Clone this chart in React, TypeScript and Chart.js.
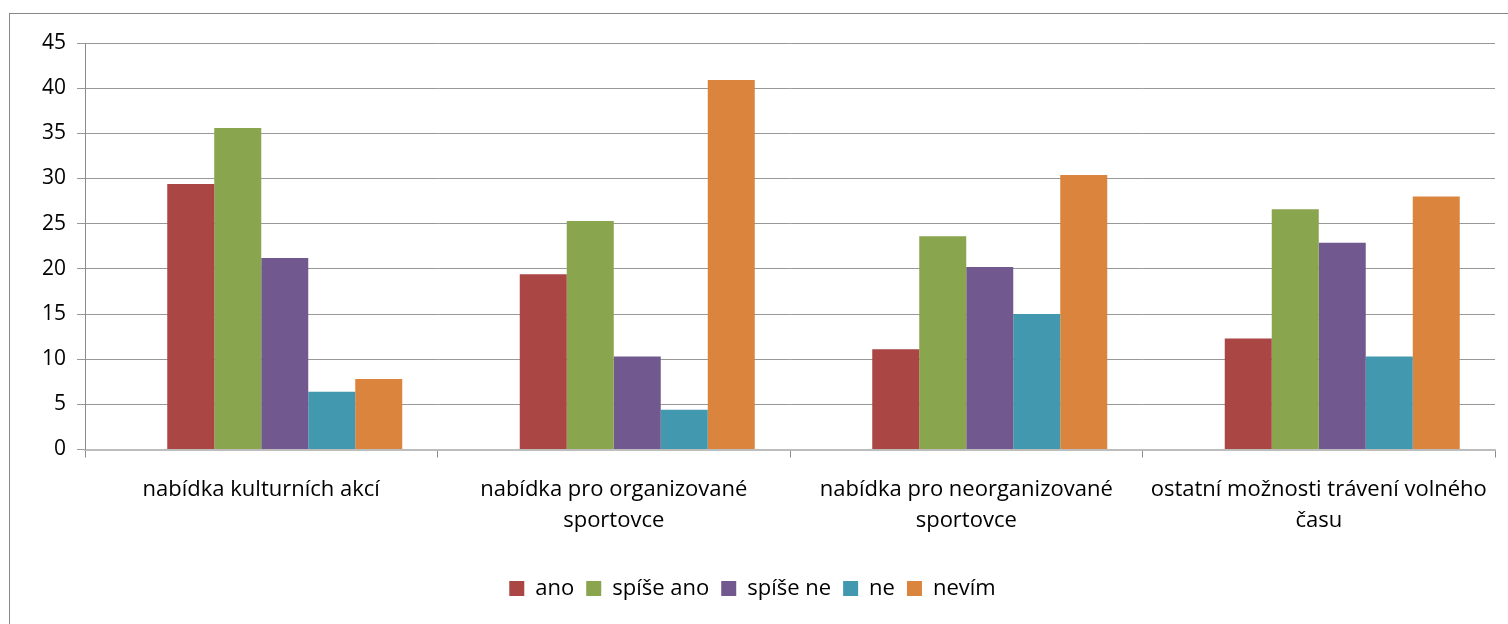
import React, { useEffect, useRef } from "react";
import { Chart, registerables } from "chart.js";

Chart.register(...registerables);

const categories: string[][] = [
  ["nabídka kulturních akcí"],
  ["nabídka pro organizované", "sportovce"],
  ["nabídka pro neorganizované", "sportovce"],
  ["ostatní možnosti trávení volného", "času"],
];

// empty leading series in the original workbook (no values, not in legend)
const blankSeries: (number | null)[] = [null, null, null, null];
const ano = [29.4, 19.4, 11.1, 12.3];
const spiseAno = [35.6, 25.3, 23.6, 26.6];
const spiseNe = [21.2, 10.3, 20.2, 22.9];
const ne = [6.4, 4.4, 15.0, 10.3];
const nevim = [7.8, 40.9, 30.4, 28.0];

const seriesNames = ["", "ano", "spíše ano", "spíše ne", "ne", "nevím"];
const seriesColors = ["rgba(0,0,0,0)", "#AA4643", "#89A54E", "#71588F", "#4198AF", "#DB843D"];
const seriesValues = [blankSeries, ano, spiseAno, spiseNe, ne, nevim];

const yMin = 0;
const yMax = 45;
const yStep = 5;

const FONT = "'Open Sans', Lato, 'DejaVu Sans', sans-serif";

export default function App() {
  const ref = useRef<HTMLCanvasElement | null>(null);

  useEffect(() => {
    if (!ref.current) return;
    const chart = new Chart(ref.current, {
      type: "bar",
      data: {
        labels: categories,
        datasets: seriesValues.map((vals, i) => ({
          label: seriesNames[i],
          data: vals,
          backgroundColor: seriesColors[i],
          borderWidth: 0,
          barPercentage: 1.0,
          categoryPercentage: 0.8,
        })),
      },
      options: {
        responsive: false,
        animation: false,
        layout: { padding: { top: 29, right: 13, bottom: 14.5, left: 0 } },
        plugins: {
          tooltip: { enabled: false },
          legend: {
            position: "bottom",
            labels: {
              filter: (item) => item.text !== "",
              boxWidth: 15,
              boxHeight: 15,
              padding: 12,
              color: "#000",
              font: { family: FONT, size: 22 },
            },
          },
        },
        scales: {
          x: {
            grid: {
              display: true,
              drawOnChartArea: false,
              drawTicks: true,
              tickLength: 8,
              color: "#8c8c8c",
              offset: true,
            },
            border: { display: true, color: "#bdbdbd", width: 2 },
            ticks: {
              color: "#000",
              padding: 17,
              maxRotation: 0,
              autoSkip: false,
              font: { family: FONT, size: 22, lineHeight: 1.41 },
            },
            afterFit: (scale: any) => {
              scale.height = 116;
            },
          },
          y: {
            min: yMin,
            max: yMax,
            ticks: {
              stepSize: yStep,
              color: "#000",
              padding: 11,
              font: { family: FONT, size: 21 },
            },
            grid: {
              color: "#999999",
              tickLength: 8,
              drawTicks: true,
            },
            border: { display: true, color: "#8c8c8c", width: 1 },
            afterFit: (scale: any) => {
              scale.width = 75;
            },
          },
        },
      },
    });
    return () => chart.destroy();
  }, []);

  return (
    <div style={{ position: "fixed", left: 0, top: 0, width: 1508, height: 624, overflow: "hidden", background: "#fff" }}>
      <div
        style={{
          position: "absolute",
          left: 9,
          top: 13,
          width: 1600,
          height: 700,
          border: "1px solid #878787",
          boxSizing: "border-box",
        }}
      />
      <div style={{ position: "absolute", left: 10, top: 14, width: 1498, height: 610 }}>
        <canvas ref={ref} width={1498} height={610} style={{ display: "block" }} />
      </div>
    </div>
  );
}
